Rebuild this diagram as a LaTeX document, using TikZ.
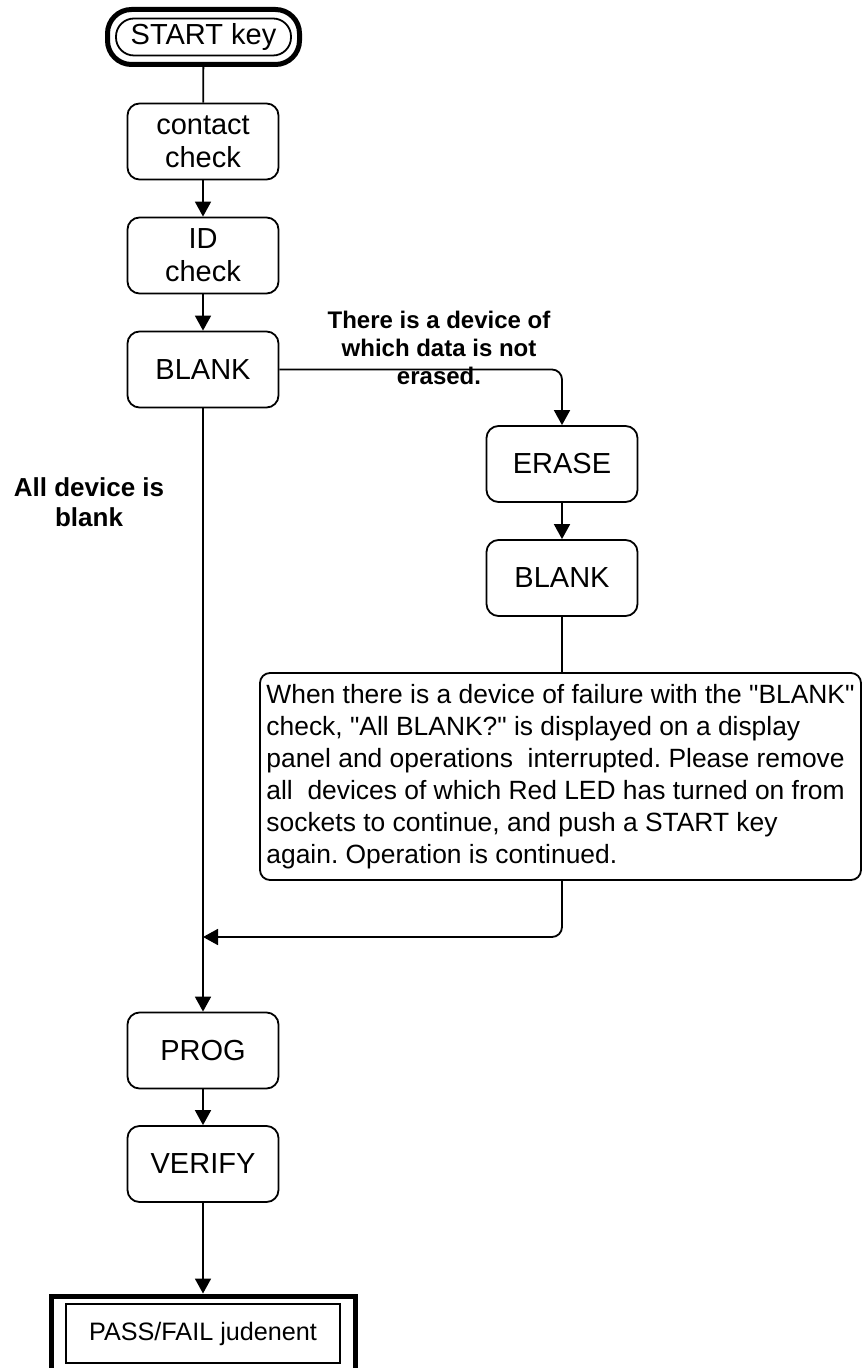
\documentclass[tikz,border=0pt]{standalone}
\usepackage{fontspec}
\setmainfont{Liberation Sans}[Ligatures=TeXOff]
\usetikzlibrary{arrows.meta}
\frenchspacing
\newcommand{\boxfont}{\fontsize{14.5}{16.5}\selectfont}
\newcommand{\notefont}{\fontsize{13.2}{16}\selectfont}

\begin{document}
\begin{tikzpicture}[x=0.5pt, y=-0.5pt, line width=0.9pt,
    >={Triangle[length=7.5pt, width=8pt]},
    stepbox/.style={draw, rounded corners=6pt, minimum width=75.5pt, minimum height=38pt,
        inner sep=0pt, align=center, font=\boxfont},
    cond/.style={font=\bfseries\fontsize{12}{14}\selectfont, align=center}]
    \clip (0,0) rectangle (863,1368);

    % START terminal : thick outer frame, thin inner pill
    \node[draw, line width=2.5pt, rounded corners=12pt, minimum width=96pt, minimum height=27.5pt] (start) at (203.5,37) {};
    \node[draw, rounded corners=9pt, minimum width=87.5pt, minimum height=18.5pt, inner sep=0pt, font=\boxfont] (startkey) at (start.center) {START key};

    % main column
    \node[stepbox] (contact) at (203,141.5) {contact\\check};
    \node[stepbox] (idchk) at (203,255.5) {ID\\check};
    \node[stepbox] (blank) at (203,369.5) {BLANK};
    \node[stepbox] (prog) at (203,1050.5) {PROG};
    \node[stepbox] (verify) at (203,1164) {VERIFY};

    % erase branch
    \node[stepbox] (erase) at (562,464) {ERASE};
    \node[stepbox] (blankb) at (562,578) {BLANK};
    \node[draw, rounded corners=5pt, minimum width=300.5pt, minimum height=103.5pt, inner sep=2pt,
        align=left, font=\notefont] (note) at (560.5,776.5)
        {When there is a device of failure with the "BLANK"\\
         check, "All BLANK?" is displayed on a display\\
         panel and operations~ interrupted. Please remove\\
         all~ devices of which Red LED has turned on from\\
         sockets to continue, and push a START key\\
         again. Operation is continued.};

    % branch conditions
    \node[cond] (lblerase) at (439,348) {There is a device of\\which data is not\\erased.};
    \node[cond, font=\bfseries\fontsize{13}{15}\selectfont] (lblblank) at (89,502) {All device is\\blank};

    % PASS/FAIL terminal : thick outer frame, thin inner box
    \node[draw, line width=2.5pt, minimum width=152pt, minimum height=41pt] (judge) at (203,1337) {};
    \node[draw, line width=0.6pt, minimum width=137pt, minimum height=29.5pt, inner sep=0pt,
        font=\fontsize{12.6}{14}\selectfont] (judgetxt) at (203,1333.5) {PASS/FAIL judenent};

    % connectors
    \coordinate (merge) at (203,937);
    \draw (start) -- (contact);
    \draw[->] (contact) -- (idchk);
    \draw[->] (idchk) -- (blank);
    \draw[->] (blank) -- (prog);
    \draw[->, rounded corners=5pt] (blank) -| (erase);
    \draw[->] (erase) -- (blankb);
    \draw (blankb) -- (blankb |- note.north);
    \draw[->, rounded corners=5pt] (note.south -| erase) |- (merge);
    \draw[->] (prog) -- (verify);
    \draw[->] (verify) -- (judge);
\end{tikzpicture}
\end{document}
